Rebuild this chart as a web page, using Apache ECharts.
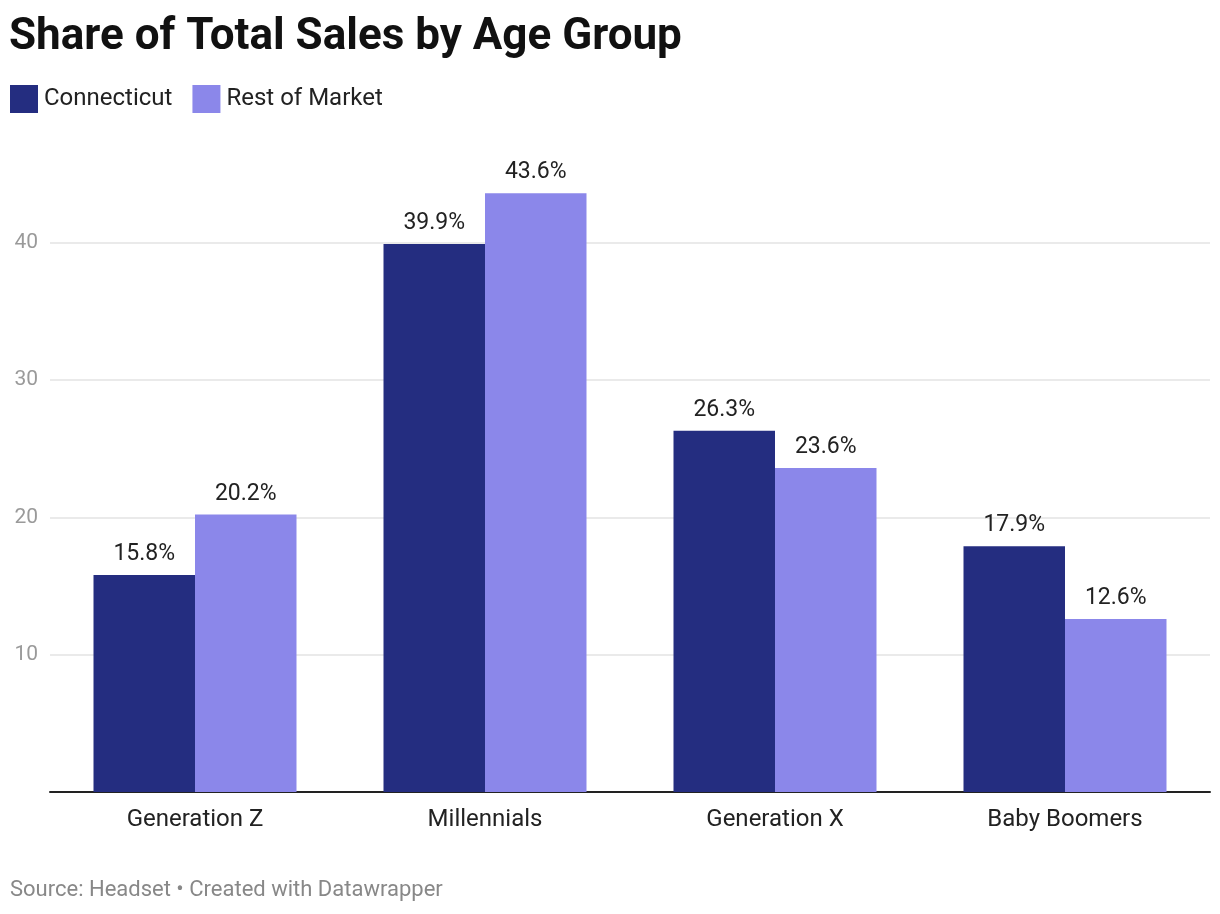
<!DOCTYPE html>
<html>
<head>
<meta charset="utf-8">
<script src="https://cdn.jsdelivr.net/npm/echarts@6/dist/echarts.min.js"></script>
<style>
  html, body { margin: 0; padding: 0; background: #fff; }
  #chart { width: 1220px; height: 914px; }
</style>
</head>
<body>
<div id="chart"></div>
<script>
// data
const categories = ['Generation Z', 'Millennials', 'Generation X', 'Baby Boomers'];
const connecticut = [15.8, 39.9, 26.3, 17.9];
const restOfMarket = [20.2, 43.6, 23.6, 12.6];

const font = 'Roboto';

const chart = echarts.init(document.getElementById('chart'));

const barLabel = {
    show: true,
    position: 'top',
    distance: 9,
    formatter: '{c}%',
    fontFamily: font,
    fontSize: 23,
    color: '#222'
};

const option = {
    backgroundColor: '#fff',
    animation: false,
    title: {
        text: 'Share of Total Sales by Age Group',
        left: 4,
        top: 11,
        textStyle: { fontFamily: font, fontSize: 44, fontWeight: 'bold', color: '#111' }
    },
    legend: {
        left: 5,
        top: 80,
        icon: 'rect',
        itemWidth: 28,
        itemHeight: 28,
        itemGap: 20,
        textStyle: { fontFamily: font, fontSize: 24, color: '#222', padding: [0, 0, 0, 1] },
        data: ['Connecticut', 'Rest of Market']
    },
    grid: { left: 50, right: 10, top: 174, bottom: 122 },
    xAxis: {
        type: 'category',
        data: categories,
        axisLine: { lineStyle: { color: '#222', width: 2 } },
        axisTick: { show: false },
        axisLabel: { fontFamily: font, fontSize: 24, color: '#222', margin: 16 }
    },
    yAxis: {
        type: 'value',
        min: 0,
        max: 45,
        interval: 10,
        axisLine: { show: false },
        axisTick: { show: false },
        axisLabel: {
            fontFamily: font, fontSize: 21, color: '#9a9a9a', margin: 12,
            showMinLabel: false, showMaxLabel: false
        },
        splitLine: { showMaxLine: false, lineStyle: { color: '#e3e3e3', width: 1.5 } }
    },
    series: [
        {
            name: 'Connecticut',
            type: 'bar',
            data: connecticut,
            barGap: '0%',
            barCategoryGap: '30%',
            itemStyle: { color: '#242d80' },
            label: barLabel
        },
        {
            name: 'Rest of Market',
            type: 'bar',
            data: restOfMarket,
            itemStyle: { color: '#8b87ea' },
            label: barLabel
        }
    ],
    graphic: [{
        type: 'text',
        left: 10,
        top: 879,
        style: {
            text: 'Source: Headset • Created with Datawrapper',
            fontFamily: font,
            fontSize: 22,
            fill: '#888'
        }
    }]
};

chart.setOption(option);
</script>
</body>
</html>
